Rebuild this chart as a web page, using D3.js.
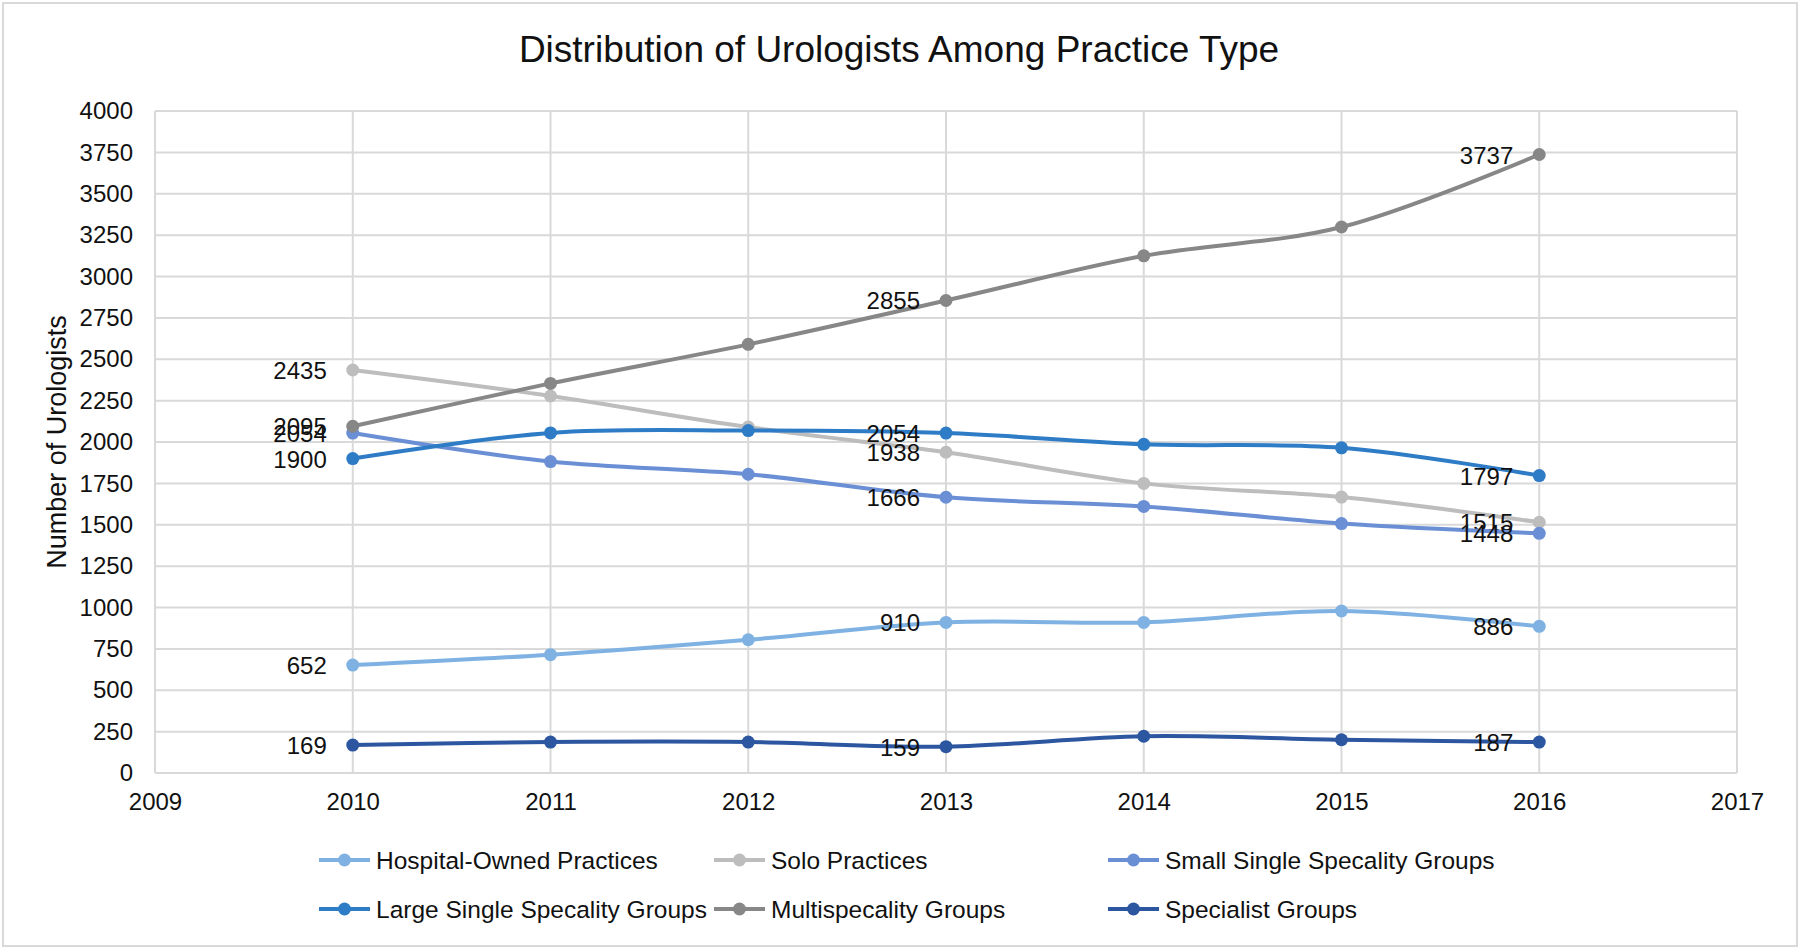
<!DOCTYPE html>
<html>
<head>
<meta charset="utf-8">
<script src="https://cdn.jsdelivr.net/npm/d3@7"></script>
<style>
  body { margin: 0; background: #fff; }
  svg text { font-family: "Liberation Sans", Arial, sans-serif; fill: #111; }
</style>
</head>
<body>
<div id="chart"></div>
<script>
// data
var years = [2010, 2011, 2012, 2013, 2014, 2015, 2016];
var seriesNames = [
    "Hospital-Owned Practices",
    "Solo Practices",
    "Small Single Specality Groups",
    "Large Single Specality Groups",
    "Multispecality Groups",
    "Specialist Groups"
];
var hospitalOwned = [652, 715, 805, 910, 910, 979, 886];
var soloPractices = [2435, 2278, 2090, 1938, 1750, 1667, 1515];
var smallSingle = [2054, 1882, 1805, 1666, 1611, 1507, 1448];
var largeSingle = [1900, 2055, 2069, 2054, 1986, 1965, 1797];
var multispecality = [2095, 2354, 2590, 2855, 3125, 3299, 3737];
var specialist = [169, 187, 187, 159, 222, 201, 187];
var yTicks = [0, 250, 500, 750, 1000, 1250, 1500, 1750, 2000, 2250, 2500, 2750, 3000, 3250, 3500, 3750, 4000];
var xTicks = [2009, 2010, 2011, 2012, 2013, 2014, 2015, 2016, 2017];
// which points get a value label
var labelYears = [2010, 2013, 2016];

var colors = ["#7fb2e2", "#bdbdbd", "#6b8fd5", "#2e7cc6", "#878787", "#2d56a1"];
var allValues = [hospitalOwned, soloPractices, smallSingle, largeSingle, multispecality, specialist];

var width = 1800, height = 949;
var margin = { left: 155, right: 63, top: 111, bottom: 176 };

var svg = d3.select("#chart").append("svg")
    .attr("width", width)
    .attr("height", height);

// outer frame
svg.append("rect")
    .attr("x", 3).attr("y", 3)
    .attr("width", width - 6).attr("height", height - 6)
    .attr("fill", "#fff")
    .attr("stroke", "#d9d9d9")
    .attr("stroke-width", 2);

var x = d3.scaleLinear().domain([2009, 2017]).range([margin.left, width - margin.right]);
var y = d3.scaleLinear().domain([0, 4000]).range([height - margin.bottom, margin.top]);

// grid
svg.append("g").selectAll("line")
    .data(yTicks).enter().append("line")
    .attr("x1", x(2009)).attr("x2", x(2017))
    .attr("y1", function (d) { return y(d); })
    .attr("y2", function (d) { return y(d); })
    .attr("stroke", "#d9d9d9")
    .attr("stroke-width", 2);

svg.append("g").selectAll("line")
    .data(xTicks).enter().append("line")
    .attr("x1", function (d) { return x(d); })
    .attr("x2", function (d) { return x(d); })
    .attr("y1", y(0)).attr("y2", y(4000))
    .attr("stroke", "#d9d9d9")
    .attr("stroke-width", 2);

// axes (labels only, lines come from the grid)
var yAxis = d3.axisLeft(y).tickValues(yTicks).tickSize(0).tickPadding(22).tickFormat(d3.format("d"));
var yAxisG = svg.append("g")
    .attr("transform", "translate(" + x(2009) + ",0)")
    .call(yAxis);
yAxisG.select(".domain").remove();
yAxisG.selectAll("text").attr("font-size", 24).attr("fill", "#111");

var xAxis = d3.axisBottom(x).tickValues(xTicks).tickSize(0).tickPadding(20).tickFormat(d3.format("d"));
var xAxisG = svg.append("g")
    .attr("transform", "translate(0," + y(0) + ")")
    .call(xAxis);
xAxisG.select(".domain").remove();
xAxisG.selectAll("text").attr("font-size", 24).attr("fill", "#111");

// title
svg.append("text")
    .attr("x", 899).attr("y", 62)
    .attr("text-anchor", "middle")
    .attr("font-size", 37)
    .text("Distribution of Urologists Among Practice Type");

// y axis title
svg.append("text")
    .attr("transform", "translate(66,442) rotate(-90)")
    .attr("text-anchor", "middle")
    .attr("font-size", 27)
    .text("Number of Urologists");

// lines
var line = d3.line()
    .x(function (d, i) { return x(years[i]); })
    .y(function (d) { return y(d); })
    .curve(d3.curveCatmullRom.alpha(0.5));

var series = svg.append("g").selectAll("g")
    .data(allValues).enter().append("g");

series.append("path")
    .attr("d", line)
    .attr("fill", "none")
    .attr("stroke", function (d, i) { return colors[i]; })
    .attr("stroke-width", 4);

series.each(function (vals, si) {
    var pts = vals.map(function (v, i) { return { year: years[i], value: v }; });

    d3.select(this).selectAll("circle")
        .data(pts).enter().append("circle")
        .attr("cx", function (d) { return x(d.year); })
        .attr("cy", function (d) { return y(d.value); })
        .attr("r", 6.5)
        .attr("fill", colors[si]);

    d3.select(this).selectAll("text")
        .data(pts.filter(function (d) { return labelYears.indexOf(d.year) >= 0; }))
        .enter().append("text")
        .attr("x", function (d) { return x(d.year) - 26; })
        .attr("y", function (d) { return y(d.value) + 9; })
        .attr("text-anchor", "end")
        .attr("font-size", 24)
        .text(function (d) { return d.value; });
});

// legend
var legendCols = [319, 714, 1108];
var legendRows = [860, 909];
var legend = svg.append("g").selectAll("g")
    .data(seriesNames).enter().append("g")
    .attr("transform", function (d, i) {
        return "translate(" + legendCols[i % 3] + "," + legendRows[Math.floor(i / 3)] + ")";
    });

legend.append("line")
    .attr("x1", 0).attr("x2", 51)
    .attr("y1", 0).attr("y2", 0)
    .attr("stroke", function (d, i) { return colors[i]; })
    .attr("stroke-width", 4);
legend.append("circle")
    .attr("cx", 25.5).attr("cy", 0).attr("r", 6.5)
    .attr("fill", function (d, i) { return colors[i]; });
legend.append("text")
    .attr("x", 57).attr("y", 8.5)
    .attr("font-size", 24.5)
    .text(function (d) { return d; });
</script>
</body>
</html>
